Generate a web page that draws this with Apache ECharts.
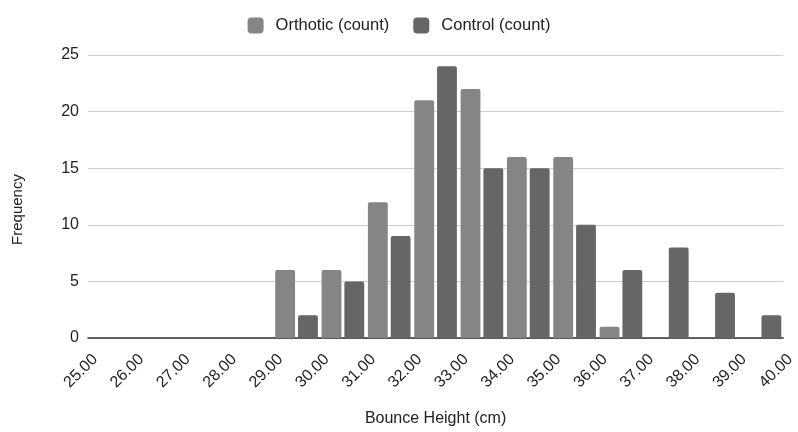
<!DOCTYPE html>
<html>
<head>
<meta charset="utf-8">
<script src="https://cdn.jsdelivr.net/npm/echarts@6/dist/echarts.min.js"></script>
<style>
  html, body { margin: 0; padding: 0; background: #fff; }
  #chart { width: 798px; height: 432px; }
</style>
</head>
<body>
<div id="chart"></div>
<script>
// Histogram bin edges (cm) and bin labels
const binEdges = [25, 26, 27, 28, 29, 30, 31, 32, 33, 34, 35, 36, 37, 38, 39, 40];
const bins = binEdges.slice(0, -1).map((e, i) => e + '-' + binEdges[i + 1]);

// Counts per 1 cm bin
const orthoticCounts = [0, 0, 0, 0, 6, 6, 12, 21, 22, 16, 16, 1, 0, 0, 0];
const controlCounts  = [0, 0, 0, 0, 2, 5, 9, 24, 15, 15, 10, 6, 8, 4, 2];

const FONT = 'Liberation Sans, Arial, sans-serif';

const chart = echarts.init(document.getElementById('chart'), null, { renderer: 'canvas' });

chart.setOption({
  animation: false,
  textStyle: { fontFamily: FONT },
  legend: {
    top: 12,
    left: 'center',
    itemWidth: 16,
    itemHeight: 16,
    itemGap: 24,
    icon: 'roundRect',
    textStyle: { fontSize: 16.5, color: '#222', fontFamily: FONT, padding: [0, 0, 0, 7] },
    data: ['Orthotic (count)', 'Control (count)']
  },
  grid: { left: 88, right: 8, top: 55, bottom: 88, containLabel: false },
  xAxis: [
    {
      type: 'category',
      data: bins,
      boundaryGap: true,
      axisLine: { show: false },
      axisTick: { show: false },
      axisLabel: { show: false },
      splitLine: { show: false }
    },
    {
      type: 'value',
      position: 'bottom',
      min: binEdges[0],
      max: binEdges[binEdges.length - 1],
      interval: 1,
      name: 'Bounce Height (cm)',
      nameLocation: 'middle',
      nameGap: 73,
      nameTextStyle: { fontSize: 16, color: '#222', fontFamily: FONT },
      axisLine: { show: true, lineStyle: { color: '#333', width: 1.5 } },
      axisTick: { show: false },
      splitLine: { show: false },
      axisLabel: {
        rotate: 45,
        margin: 26,
        padding: [0, -10, 0, 0],
        fontSize: 16,
        color: '#222',
        fontFamily: FONT,
        formatter: v => v.toFixed(2)
      }
    }
  ],
  yAxis: {
    type: 'value',
    min: 0,
    max: 25,
    interval: 5,
    name: 'Frequency',
    nameLocation: 'middle',
    nameGap: 63,
    nameRotate: 90,
    nameTextStyle: { fontSize: 15, color: '#222', fontFamily: FONT, padding: [0, 0, 0, -26] },
    axisLine: { show: false },
    axisTick: { show: false },
    axisLabel: { fontSize: 16, color: '#222', margin: 9, fontFamily: FONT },
    splitLine: { lineStyle: { color: '#cccccc', width: 1 } }
  },
  series: [
    {
      name: 'Orthotic (count)',
      type: 'bar',
      xAxisIndex: 0,
      data: orthoticCounts,
      barGap: '15%',
      barCategoryGap: '8%',
      itemStyle: { color: '#858585', borderRadius: [2, 2, 0, 0] }
    },
    {
      name: 'Control (count)',
      type: 'bar',
      xAxisIndex: 0,
      data: controlCounts,
      barGap: '15%',
      barCategoryGap: '8%',
      itemStyle: { color: '#666666', borderRadius: [2, 2, 0, 0] }
    }
  ]
});
</script>
</body>
</html>
